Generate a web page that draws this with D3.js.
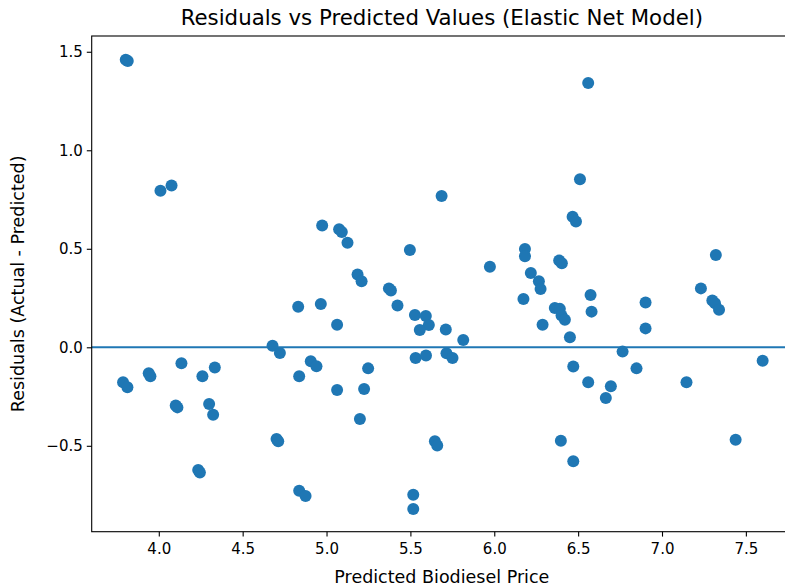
<!DOCTYPE html>
<html>
<head>
<meta charset="utf-8">
<script src="https://cdn.jsdelivr.net/npm/d3@7/dist/d3.min.js"></script>
<style>
  html, body { margin: 0; padding: 0; background: #fff; }
  svg { display: block; font-family: "DejaVu Sans", sans-serif; }
</style>
</head>
<body>
<svg id="chart" width="785" height="588"></svg>
<script>
// ---- data ----
const predicted = [
  3.803, 3.815, 4.010, 4.076, 4.974, 4.831, 4.966, 4.678, 4.722,
  3.787, 3.813, 3.940, 3.950, 4.135, 4.260, 4.334, 4.101, 4.111,
  4.300, 4.324, 4.837, 4.906, 4.940, 4.702, 4.712, 4.235, 4.245,
  4.837, 4.875,
  5.075, 5.091, 5.125, 5.185, 5.209, 5.497, 5.686, 5.372, 5.384,
  5.423, 5.063, 5.248, 5.063, 5.224, 5.199,
  5.527, 5.592, 5.610, 5.556, 5.711, 5.815, 5.531, 5.593, 5.715,
  5.751, 5.646, 5.660, 5.517, 5.517, 5.974, 6.183, 6.183, 6.218,
  6.266, 6.276, 6.174, 6.288,
  6.560, 6.511, 6.467, 6.487, 6.387, 6.403, 6.574, 6.580, 6.361,
  6.391, 6.401, 6.421, 6.451, 6.471, 6.560, 6.695, 6.665, 6.765,
  6.848, 6.902, 6.902, 7.146, 7.232, 7.321, 7.300, 7.316, 7.340,
  7.600, 7.439, 6.397, 6.471
];
const residuals = [
  1.460, 1.453, 0.795, 0.821, 0.618, 0.206, 0.220, 0.008, -0.029,
  -0.178, -0.203, -0.132, -0.147, -0.081, -0.147, -0.102, -0.296, -0.305,
  -0.288, -0.342, -0.147, -0.071, -0.096, -0.465, -0.477, -0.623, -0.636,
  -0.728, -0.755,
  0.599, 0.585, 0.531, 0.369, 0.335, 0.494, 0.768, 0.299, 0.288,
  0.212, 0.115, -0.107, -0.217, -0.212, -0.364,
  0.164, 0.159, 0.113, 0.088, 0.090, 0.037, -0.054, -0.042, -0.030,
  -0.054, -0.477, -0.499, -0.748, -0.821, 0.409, 0.499, 0.462, 0.377,
  0.335, 0.296, 0.245, 0.115,
  1.342, 0.853, 0.663, 0.638, 0.440, 0.426, 0.266, 0.181, 0.200,
  0.195, 0.161, 0.140, 0.051, -0.098, -0.178, -0.198, -0.257, -0.022,
  -0.107, 0.227, 0.096, -0.178, 0.299, 0.469, 0.237, 0.223, 0.190,
  -0.068, -0.469, -0.474, -0.579
];
const xTicks = [4.0, 4.5, 5.0, 5.5, 6.0, 6.5, 7.0, 7.5];
const yTicks = [-0.5, 0.0, 0.5, 1.0, 1.5];

const titleText = "Residuals vs Predicted Values (Elastic Net Model)";
const xLabelText = "Predicted Biodiesel Price";
const yLabelText = "Residuals (Actual - Predicted)";

// ---- layout ----
const svg = d3.select("#chart");
const pL = 91.7, pR = 792, pT = 36, pB = 531.7;
const blue = "#1f77b4";

const x = d3.scaleLinear().domain([3.6, 7.775]).range([pL, pR]);
const y = d3.scaleLinear().domain([-0.936, 1.580]).range([pB, pT]);

const fmt = v => d3.format(".1f")(v).replace("-", "\u2212");

// points
const pts = predicted.map((p, i) => ({ p, r: residuals[i] }));
svg.append("g")
  .selectAll("circle")
  .data(pts)
  .join("circle")
  .attr("cx", d => x(d.p))
  .attr("cy", d => y(d.r))
  .attr("r", 6)
  .attr("fill", blue);

// zero line
svg.append("line")
  .attr("x1", pL).attr("x2", pR)
  .attr("y1", y(0)).attr("y2", y(0))
  .attr("stroke", blue).attr("stroke-width", 2.1);

// axes
const xAxis = d3.axisBottom(x).tickValues(xTicks).tickFormat(fmt)
  .tickSizeInner(4.9).tickSizeOuter(0).tickPadding(7);
const yAxis = d3.axisLeft(y).tickValues(yTicks).tickFormat(fmt)
  .tickSizeInner(4.9).tickSizeOuter(0).tickPadding(4);

const gx = svg.append("g").attr("transform", `translate(0,${pB})`).call(xAxis);
const gy = svg.append("g").attr("transform", `translate(${pL},0)`).call(yAxis);

[gx, gy].forEach(g => {
  g.select(".domain").remove();
  g.selectAll(".tick line").attr("stroke", "#000").attr("stroke-width", 1.1);
  g.selectAll(".tick text")
    .attr("fill", "#000")
    .style("font-family", "DejaVu Sans, sans-serif")
    .style("font-size", "15px");
});

// spines
svg.append("rect")
  .attr("x", pL).attr("y", pT)
  .attr("width", pR - pL).attr("height", pB - pT)
  .attr("fill", "none").attr("stroke", "#000").attr("stroke-width", 1.1);

// title and labels
svg.append("text")
  .attr("x", (pL + pR) / 2).attr("y", 25)
  .attr("text-anchor", "middle")
  .style("font-size", "21.3px")
  .text(titleText);

svg.append("text")
  .attr("x", (pL + pR) / 2).attr("y", 583)
  .attr("text-anchor", "middle")
  .style("font-size", "17.5px")
  .text(xLabelText);

svg.append("text")
  .attr("transform", `translate(24,${(pT + pB) / 2}) rotate(-90)`)
  .attr("text-anchor", "middle")
  .style("font-size", "17.5px")
  .text(yLabelText);
</script>
</body>
</html>
